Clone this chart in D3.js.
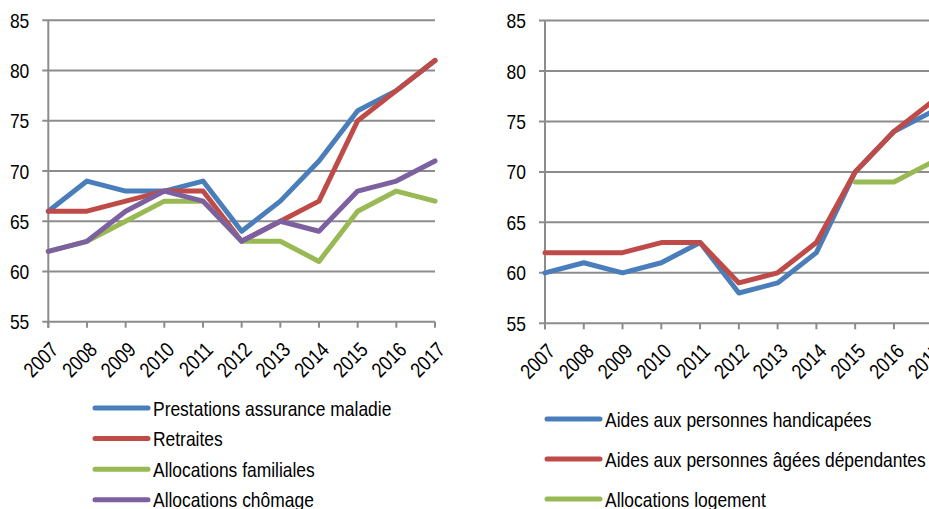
<!DOCTYPE html>
<html>
<head>
<meta charset="utf-8">
<script src="https://cdn.jsdelivr.net/npm/d3@7"></script>
<style>
  html, body { margin: 0; padding: 0; background: #fff; }
  svg { display: block; }
  text { font-family: "Liberation Sans Narrow", "Arial Narrow", "Liberation Sans", Arial, sans-serif; fill: #000; }
</style>
</head>
<body>
<svg id="chart" width="929" height="509"></svg>
<script>
// Years along the horizontal axis (shared by both panels)
const years = ["2007","2008","2009","2010","2011","2012","2013","2014","2015","2016","2017"];
const yTicks = [55, 60, 65, 70, 75, 80, 85];

// Left panel series
const prestationsMaladie = [66, 69, 68, 68, 69, 64, 67, 71, 76, 78, 81];
const retraites          = [66, 66, 67, 68, 68, 63, 65, 67, 75, 78, 81];
const allocFamiliales    = [62, 63, 65, 67, 67, 63, 63, 61, 66, 68, 67];
const allocChomage       = [62, 63, 66, 68, 67, 63, 65, 64, 68, 69, 71];

// Right panel series
const aidesHandicapees   = [60, 61, 60, 61, 63, 58, 59, 62, 70, 74, 76];
const aidesAgees         = [62, 62, 62, 63, 63, 59, 60, 63, 70, 74, 77];
const allocLogement      = [null, null, null, null, null, null, null, null, 69, 69, 71];

const colors = { blue: "#4A7EBB", red: "#BE4B48", green: "#98B954", purple: "#7D60A0" };

const leftSeries = [
  { name: "Prestations assurance maladie", values: prestationsMaladie, color: colors.blue },
  { name: "Retraites", values: retraites, color: colors.red },
  { name: "Allocations familiales", values: allocFamiliales, color: colors.green },
  { name: "Allocations chômage", values: allocChomage, color: colors.purple }
];
const rightSeries = [
  { name: "Aides aux personnes handicapées", values: aidesHandicapees, color: colors.blue },
  { name: "Aides aux personnes âgées dépendantes", values: aidesAgees, color: colors.red },
  { name: "Allocations logement", values: allocLogement, color: colors.green }
];

const svg = d3.select("#chart");
const gridColor = "#8C8C8C";
const condense = 0.83; // narrow typeface look

function drawPanel(cfg) {
  const x = d3.scalePoint().domain(years).range([cfg.x0, cfg.x1]);
  const y = d3.scaleLinear().domain([55, 85]).range([cfg.yBottom, cfg.yTop]);
  const g = svg.append("g");

  // horizontal gridlines with short outside ticks
  g.selectAll("line.grid").data(yTicks).join("line")
    .attr("x1", cfg.x0 - 6).attr("x2", cfg.gridEnd)
    .attr("y1", d => y(d)).attr("y2", d => y(d))
    .attr("stroke", gridColor).attr("stroke-width", 2);

  // y axis labels
  g.selectAll("text.ytick").data(yTicks).join("text")
    .attr("class", "lbl")
    .attr("x", cfg.x0 - 19).attr("y", d => y(d))
    .attr("dy", "0.36em").attr("text-anchor", "end")
    .attr("font-size", 21).text(d => d);

  // vertical axis line
  g.append("line")
    .attr("x1", cfg.x0).attr("x2", cfg.x0)
    .attr("y1", cfg.yTop).attr("y2", cfg.yBottom + 6)
    .attr("stroke", gridColor).attr("stroke-width", 2);

  // category ticks
  g.selectAll("line.xtick").data(years).join("line")
    .attr("x1", d => x(d)).attr("x2", d => x(d))
    .attr("y1", cfg.yBottom).attr("y2", cfg.yBottom + 6)
    .attr("stroke", gridColor).attr("stroke-width", 2);

  // rotated year labels
  g.selectAll("text.xlab").data(years).join("text")
    .attr("class", "lbl")
    .attr("transform", d => `translate(${x(d) + 1},${cfg.yBottom + 19}) rotate(-45)`)
    .attr("text-anchor", "end").attr("dy", "0.7em")
    .attr("font-size", 21).text(d => d);

  // series lines
  const line = d3.line()
    .defined(d => d != null)
    .x((d, i) => x(years[i]))
    .y(d => y(d));
  g.selectAll("path.series").data(cfg.series).join("path")
    .attr("d", s => line(s.values))
    .attr("fill", "none")
    .attr("stroke", s => s.color)
    .attr("stroke-width", 5)
    .attr("stroke-linejoin", "round")
    .attr("stroke-linecap", "round");

  // legend
  const lg = g.selectAll("g.leg").data(cfg.series).join("g")
    .attr("transform", (s, i) => `translate(0,${cfg.legY0 + i * cfg.legStep})`);
  lg.append("line")
    .attr("x1", cfg.legX).attr("x2", cfg.legX + 53)
    .attr("y1", 0).attr("y2", 0)
    .attr("stroke", s => s.color).attr("stroke-width", 5)
    .attr("stroke-linecap", "round");
  lg.append("text")
    .attr("class", "lbl")
    .attr("x", cfg.legX + 58).attr("y", 0).attr("dy", "0.36em")
    .attr("font-size", 21).text(s => s.name);
}

drawPanel({
  x0: 48.3, x1: 435, gridEnd: 435, yTop: 20.3, yBottom: 321.7,
  series: leftSeries, legX: 95, legY0: 408, legStep: 30.6
});
drawPanel({
  x0: 545, x1: 932.7, gridEnd: 935, yTop: 20.5, yBottom: 323.3,
  series: rightSeries, legX: 547, legY0: 419, legStep: 40
});

// squeeze every label horizontally to a condensed width
svg.selectAll("text.lbl").each(function () {
  const w = this.getComputedTextLength();
  d3.select(this).attr("textLength", w * condense).attr("lengthAdjust", "spacingAndGlyphs");
});
</script>
</body>
</html>
